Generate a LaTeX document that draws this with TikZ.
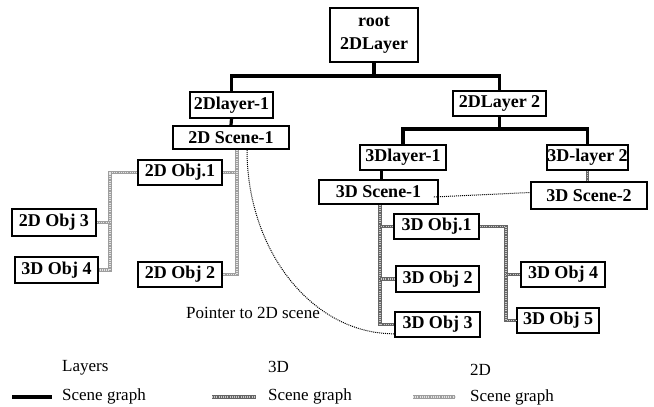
\documentclass[tikz,border=0pt]{standalone}
\usepackage{fontspec}
\setmainfont{Liberation Serif}
\usetikzlibrary{calc}
\tikzset{
  box/.style={draw, line width=1.6pt, inner sep=0pt, fill=white,
    font=\bfseries\fontsize{18}{20}\selectfont},
  layer/.style={line width=3.2pt},
  sgthree/.style={draw=black!60, line width=3.8pt,
    postaction={draw=black!20, line width=1.2pt, dash pattern=on 1pt off 1.2pt}},
  sgtwo/.style={draw=black!38, line width=3.8pt,
    postaction={draw=black!10, line width=1.2pt, dash pattern=on 1pt off 1.2pt}},
  ptr/.style={line width=1pt, dash pattern=on 1pt off 1pt},
  lbl/.style={font=\fontsize{17}{19}\selectfont, inner sep=0pt, anchor=west},
}
\begin{document}
\begin{tikzpicture}[x=1pt, y=-1pt]
\useasboundingbox (0,0) rectangle (654,407);

% layer nodes
\node[box, minimum width=88pt, minimum height=54pt, align=center,
  font=\bfseries\fontsize{18}{23}\selectfont] (root) at (374,35) {root\\2DLayer};
\node[box, minimum width=83pt, minimum height=26pt] (l2d1) at (231.5,105) {2Dlayer-1};
\node[box, minimum width=116pt, minimum height=23pt] (s2d1) at (231,137.5) {2D Scene-1};
\node[box, minimum width=93pt, minimum height=25pt] (l2d2) at (499.5,103.5) {2DLayer 2};
\node[box, minimum width=86pt, minimum height=25pt] (l3d1) at (403,157.5) {3Dlayer-1};
\node[box, minimum width=81pt, minimum height=25pt] (l3d2) at (587.5,157.5) {3D-layer 2};
\node[box, minimum width=119pt, minimum height=24pt] (s3d1) at (378.5,192) {3D Scene-1};
\node[box, minimum width=116pt, minimum height=27pt] (s3d2) at (589,195.5) {3D Scene-2};

% 2D objects
\node[box, minimum width=84pt, minimum height=25pt] (o2d1) at (180,172.5) {2D Obj.1};
\node[box, minimum width=84pt, minimum height=27pt] (o2d3) at (54,222.5) {2D Obj 3};
\node[box, minimum width=83pt, minimum height=26pt] (o3d4l) at (56.5,270) {3D Obj 4};
\node[box, minimum width=84pt, minimum height=25pt] (o2d2) at (180,274.5) {2D Obj 2};

% 3D objects
\node[box, minimum width=85pt, minimum height=25pt] (o3d1) at (436.5,226.5) {3D Obj.1};
\node[box, minimum width=83pt, minimum height=26pt] (o3d2) at (437.5,279) {3D Obj 2};
\node[box, minimum width=85pt, minimum height=25pt] (o3d3) at (437.5,324.5) {3D Obj 3};
\node[box, minimum width=84pt, minimum height=25pt] (o3d4r) at (563,274.5) {3D Obj 4};
\node[box, minimum width=82pt, minimum height=25pt] (o3d5) at (558,320.5) {3D Obj 5};

% layer connectors
\coordinate (bus1) at (0,76);
\coordinate (bus2) at (0,129);
\draw[layer] (root.south) -- (root.south |- bus1);
\draw[layer] (l2d1.north) |- (l2d2.north |- bus1) -- (l2d2.north);
\draw[layer] (l2d1.south) -- (s2d1.north);
\draw[layer] (l2d2.south) -- (l2d2.south |- bus2);
\draw[layer] (l3d1.north) |- (l3d2.north |- bus2) -- (l3d2.north);
\coordinate (c31) at ($(s3d1.north)+(3,0)$);
\draw[layer] (c31) -- (c31 |- l3d1.south);

% 2D scene graph
\coordinate (b2) at ($(s2d1.south)+(6,0)$);
\draw[sgtwo] (b2) |- (o2d2.east);
\draw[sgtwo] (o2d1.east) -- (o2d1.east -| b2);
\coordinate (b2l) at (110,0);
\draw[sgtwo] (o2d1.west) -| (b2l |- o3d4l.east) -- (o3d4l.east);
\draw[sgtwo] (o2d3.east) -- (o2d3.east -| b2l);

% 3D scene graph
\coordinate (b3) at ($(s3d1.south)+(1.5,0)$);
\draw[sgthree] (b3) |- (o3d3.west);
\draw[sgthree] (o3d1.west) -- (o3d1.west -| b3);
\draw[sgthree] (o3d2.west) -- (o3d2.west -| b3);
\coordinate (b3r) at (506,0);
\draw[sgthree] (o3d1.east) -| (b3r |- o3d5.west) -- (o3d5.west);
\draw[sgthree] (o3d4r.west) -- (o3d4r.west -| b3r);
\draw[sgthree] (l3d2.south) -- (l3d2.south |- s3d2.north);

% pointers
\coordinate (p0) at ($(s2d1.south)+(16,0)$);
\coordinate (p1) at ($(o3d3.south west)+(0,-4)$);
\draw[ptr] (p0) .. controls ($(p0)+(0,101)$) and ($(p1)+(-82,0)$) .. (p1);
\coordinate (q0) at ($(s3d1.east)+(-5,5)$);
\coordinate (q1) at ($(s3d2.west)+(0,-3)$);
\draw[ptr] (q0) -- (q1);
\node[lbl] (ptrlbl) at (186,313) {Pointer to 2D scene};

% legend
\coordinate (lg1a) at (12,397);
\coordinate (lg1b) at (52,397);
\draw[layer] (lg1a) -- (lg1b);
\node[lbl] (lgt1a) at (62,368) {Layers};
\node[lbl] (lgt1b) at (62,396) {Scene graph};
\coordinate (lg2a) at (212,397);
\coordinate (lg2b) at (256,397);
\draw[sgthree] (lg2a) -- (lg2b);
\node[lbl] (lgt2a) at (268,367) {3D};
\node[lbl] (lgt2b) at (268,396) {Scene graph};
\coordinate (lg3a) at (413,397);
\coordinate (lg3b) at (455,397);
\draw[sgtwo] (lg3a) -- (lg3b);
\node[lbl] (lgt3a) at (470,370) {2D};
\node[lbl] (lgt3b) at (470,397) {Scene graph};
\end{tikzpicture}
\end{document}
